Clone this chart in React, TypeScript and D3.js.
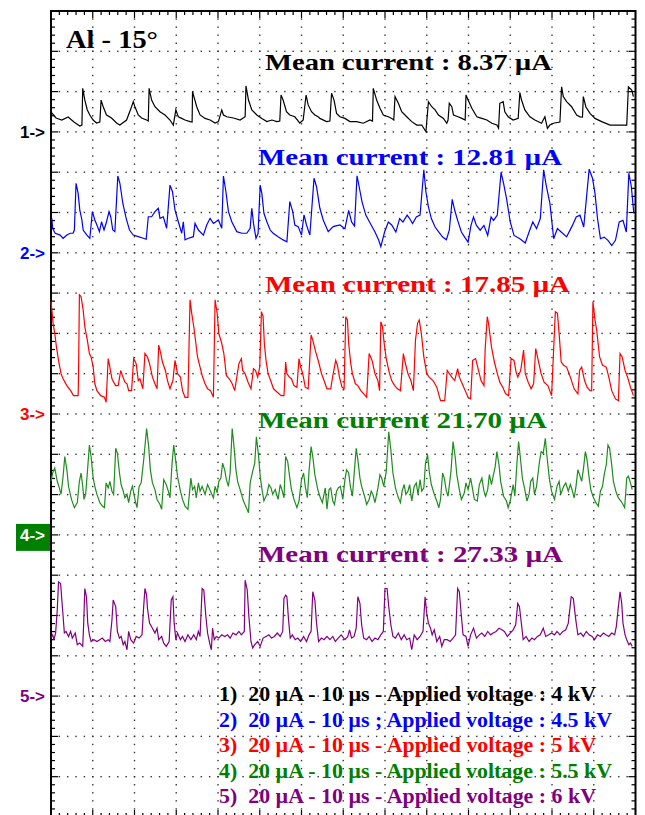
import React from "react";
import * as d3 from "d3";

// ---------- DATA ----------
const channelLabels = ["1->", "2->", "3->", "4->", "5->"];
const channelColors = ["#000000", "#0000ff", "#ff0000", "#1e8c1e", "#800080"];
const textColors = ["#000000", "#0000ff", "#ff0000", "#008000", "#800080"];
const markerDivisions = [3, 6, 10, 13, 17]; // grid line index (from top) of each channel's zero
const meanLabels = [
  "Mean current : 8.37 µA",
  "Mean current : 12.81 µA",
  "Mean current : 17.85 µA",
  "Mean current 21.70 µA",
  "Mean current : 27.33 µA",
];
const legendLabels = [
  "1)  20 µA - 10 µs - Applied voltage : 4 kV",
  "2)  20 µA - 10 µs ; Applied voltage : 4.5 kV",
  "3)  20 µA - 10 µs - Applied voltage : 5 kV",
  "4)  20 µA - 10 µs - Applied voltage : 5.5 kV",
  "5)  20 µA - 10 µs - Applied voltage : 6 kV",
];
const titleText = "Al - 15°";
const timeDivs = 14; // 10 µs / div
const ampDivs = 20; // 20 µA / div
const usPerDiv = 10;
const uaPerDiv = 20;

// time (µs), current (µA) relative to channel marker
const trace1: [number, number][] = [
  [0.2, 9.4], [1.2, 6.9], [2.6, 5.9], [4.1, 7.4], [5.5, 4.9], [6.9, 2.9], [7.4, 3.4], [7.6, 21.6], [8.1, 15.8], [8.7, 10.9],
  [9.3, 8.4], [10.1, 5.9], [10.9, 4.4], [11.7, 4.9], [12.0, 15.8], [12.5, 12.5], [13.3, 8.4], [14.5, 6.9], [15.7, 4.4], [16.5, 3.4],
  [18.1, 5.9], [19.3, 12.5], [19.7, 15.0], [20.1, 12.5], [20.9, 8.4], [21.7, 6.9], [22.9, 5.9], [23.3, 5.4], [23.5, 21.6], [24.1, 15.8],
  [24.9, 12.5], [26.1, 10.0], [27.3, 8.4], [28.5, 5.9], [29.3, 3.4], [29.9, 10.9], [30.5, 7.5], [31.3, 6.7], [32.1, 5.9], [33.3, 5.1],
  [33.8, 4.9], [33.9, 20.0], [34.9, 12.5], [35.7, 8.4], [36.9, 6.7], [38.1, 5.9], [39.3, 4.4], [40.1, 5.1], [40.9, 10.9], [41.3, 8.4],
  [42.1, 7.5], [43.7, 6.9], [45.3, 5.9], [46.5, 7.5], [46.7, 22.8], [47.3, 15.8], [48.1, 10.9], [49.3, 8.4], [50.5, 6.7], [51.7, 5.1],
  [52.9, 5.9], [54.1, 5.1], [54.8, 5.4], [55.1, 18.3], [55.6, 15.8], [56.4, 10.0], [57.2, 8.4], [58.4, 7.5], [59.6, 4.4], [60.4, 5.9],
  [61.1, 18.3], [61.6, 13.4], [62.4, 10.0], [63.2, 8.4], [64.0, 7.5], [64.4, 6.7], [66.0, 5.1], [66.8, 5.4], [67.2, 19.2], [67.8, 15.8],
  [68.4, 9.2], [69.2, 7.5], [70.4, 6.7], [71.6, 5.1], [73.2, 5.1], [74.8, 4.3], [76.4, 5.9], [77.0, 5.4], [77.2, 21.6], [78.0, 15.8],
  [78.8, 11.7], [79.6, 8.4], [80.8, 7.5], [81.6, 6.7], [82.1, 5.9], [82.4, 17.5], [83.2, 14.2], [84.0, 10.0], [85.2, 7.5], [86.4, 5.1],
  [87.6, 3.4], [88.8, 3.4], [89.8, 0.1], [90.4, 15.0], [91.2, 12.5], [92.0, 10.9], [92.8, 8.4], [94.0, 6.7], [94.8, 4.3], [95.1, 5.9],
  [95.4, 14.2], [96.0, 12.5], [96.4, 8.4], [97.5, 7.5], [98.4, 6.7], [99.2, 5.9], [99.4, 18.3], [99.9, 15.8], [100.8, 11.7], [102.0, 7.5],
  [103.2, 6.7], [104.4, 5.9], [105.6, 4.3], [106.8, 3.4], [107.2, 1.8], [107.5, 14.2], [108.3, 15.0], [108.7, 10.0], [109.5, 7.5], [110.7, 5.9],
  [111.9, 6.7], [112.3, 19.5], [112.7, 15.8], [113.5, 10.9], [114.7, 7.5], [115.9, 5.9], [117.5, 4.3], [118.3, 7.5], [118.9, 1.8], [119.5, 3.4],
  [120.3, 4.3], [121.9, 4.9], [122.3, 22.4], [122.7, 17.5], [123.5, 15.0], [124.7, 12.5], [125.9, 8.4], [126.7, 7.5], [127.3, 7.4], [127.5, 17.5],
  [128.1, 12.5], [129.1, 9.2], [130.3, 6.7], [131.9, 5.1], [133.9, 3.4], [135.9, 3.4], [137.9, 3.4], [138.3, 22.4], [139.1, 20.8], [139.5, 17.5],
];

const trace2: [number, number][] = [
  [0.2, 17.1], [0.4, 12.1], [1.0, 9.7], [2.2, 8.8], [2.9, 7.2], [3.8, 8.8], [4.6, 9.7], [5.3, 9.7], [5.6, 11.3], [6.0, 34.5],
  [6.5, 29.5], [6.9, 21.2], [7.4, 16.3], [7.7, 11.3], [8.6, 8.8], [9.3, 7.2], [9.9, 20.4], [10.5, 16.3], [11.0, 13.8], [11.6, 10.5],
  [12.1, 15.4], [12.7, 11.3], [13.3, 15.4], [13.9, 20.4], [14.3, 17.9], [14.8, 11.3], [15.3, 10.5], [16.0, 38.1], [16.5, 34.5], [17.2, 24.6],
  [18.0, 17.1], [18.8, 11.3], [19.7, 8.8], [20.9, 8.0], [22.1, 7.2], [22.8, 6.7], [23.3, 17.9], [24.1, 17.9], [24.9, 20.4], [25.7, 22.1],
  [26.1, 17.1], [26.9, 17.9], [27.7, 12.2], [28.5, 33.6], [29.1, 30.3], [29.7, 21.2], [30.5, 15.4], [31.3, 9.7], [31.7, 15.4], [32.1, 6.4],
  [32.9, 7.2], [34.1, 8.0], [34.5, 14.6], [35.3, 11.3], [36.5, 8.8], [37.3, 13.8], [38.1, 17.1], [38.9, 14.6], [40.1, 16.3], [40.9, 12.2],
  [41.3, 38.1], [41.9, 30.3], [42.5, 20.4], [43.3, 15.4], [44.5, 10.5], [45.7, 9.7], [46.9, 9.7], [47.7, 12.2], [48.1, 22.1], [48.5, 14.6],
  [49.1, 7.2], [49.6, 9.7], [50.1, 33.6], [50.5, 29.5], [51.0, 19.6], [51.7, 15.4], [52.5, 11.3], [53.2, 9.7], [54.4, 8.0], [55.6, 6.4],
  [56.5, 5.5], [57.2, 25.4], [57.9, 20.4], [58.4, 13.8], [59.2, 13.0], [60.0, 8.8], [60.6, 18.8], [61.2, 13.8], [62.0, 8.8], [63.0, 37.0],
  [63.6, 32.8], [64.4, 22.1], [65.2, 16.3], [66.4, 10.5], [67.6, 13.0], [69.2, 13.8], [70.4, 12.0], [71.3, 21.1], [72.0, 15.3], [72.7, 13.3],
  [73.3, 38.2], [73.8, 32.9], [74.5, 25.3], [75.4, 18.7], [76.3, 15.3], [77.6, 10.3], [78.5, 6.2], [79.0, 3.1], [79.9, 10.3], [80.8, 15.3],
  [81.6, 13.8], [82.6, 10.3], [83.5, 17.0], [84.3, 15.3], [85.3, 18.7], [85.9, 17.0], [86.6, 14.5], [87.5, 17.8], [88.4, 18.7], [89.3, 41.2],
  [89.8, 30.3], [90.4, 22.8], [91.1, 17.0], [92.0, 12.8], [92.9, 10.3], [93.8, 7.8], [94.7, 6.5], [95.4, 11.2], [96.1, 26.5], [96.7, 21.1],
  [97.4, 16.1], [98.3, 10.3], [99.2, 7.4], [99.9, 5.3], [100.6, 13.6], [101.2, 17.8], [101.9, 13.6], [102.8, 11.2], [103.7, 13.6], [104.6, 8.6],
  [105.4, 17.8], [106.0, 16.1], [106.9, 18.7], [107.8, 39.9], [108.4, 34.5], [109.1, 27.0], [110.0, 15.3], [110.9, 8.6], [112.3, 7.0], [113.6, 4.9],
  [114.5, 10.3], [115.4, 15.3], [116.3, 12.0], [117.2, 17.0], [118.0, 41.2], [118.6, 33.6], [119.5, 24.5], [120.4, 7.0], [121.3, 12.0], [122.2, 10.3],
  [123.5, 7.9], [124.9, 13.6], [125.8, 17.8], [126.7, 18.7], [127.6, 12.8], [128.9, 41.5], [129.7, 37.0], [130.3, 29.5], [130.9, 17.0], [131.6, 7.0],
  [132.5, 7.8], [133.4, 6.2], [134.3, 3.6], [135.2, 6.2], [136.1, 15.3], [137.0, 16.1], [137.8, 10.3], [138.4, 39.5], [139.0, 32.9], [139.6, 19.5],
];

const trace3: [number, number][] = [
  [0.0, 55.8], [0.2, 51.7], [0.5, 45.0], [0.9, 40.0], [1.3, 33.3], [1.8, 26.6], [2.4, 20.0], [2.9, 17.5], [3.8, 14.1], [4.7, 11.6],
  [5.4, 9.1], [6.5, 9.1], [6.6, 20.0], [6.8, 59.2], [7.2, 58.3], [7.7, 51.7], [8.1, 43.3], [8.7, 36.7], [9.2, 30.0], [9.6, 28.3],
  [10.1, 23.3], [10.5, 15.0], [11.0, 11.6], [11.9, 9.1], [12.8, 8.3], [13.2, 5.8], [13.7, 27.5], [14.1, 23.3], [14.6, 17.5], [15.0, 15.8],
  [15.5, 14.1], [16.1, 14.1], [16.7, 21.6], [17.1, 19.1], [17.7, 15.8], [18.2, 15.0], [18.6, 11.6], [19.3, 11.6], [19.8, 27.5], [20.4, 25.0],
  [20.9, 16.6], [21.3, 17.5], [22.0, 12.5], [22.5, 30.0], [23.1, 28.3], [23.6, 25.0], [24.3, 18.3], [24.9, 15.0], [25.4, 12.5], [25.8, 34.2],
  [26.3, 30.0], [26.7, 25.8], [27.4, 21.6], [27.9, 16.6], [28.5, 12.5], [29.2, 16.6], [29.7, 26.6], [30.3, 20.0], [31.0, 18.3], [31.5, 11.6],
  [32.1, 8.3], [32.8, 8.3], [33.3, 56.7], [33.7, 50.0], [34.2, 43.3], [34.6, 36.7], [35.1, 28.3], [35.7, 23.3], [36.2, 19.1], [36.9, 15.0],
  [37.5, 12.5], [38.2, 11.6], [38.9, 8.3], [39.3, 56.7], [39.8, 50.0], [40.2, 40.0], [40.9, 35.0], [41.4, 30.0], [42.0, 19.1], [42.7, 17.5],
  [43.4, 15.0], [44.0, 11.6], [45.0, 25.0], [45.6, 27.5], [45.9, 21.6], [46.5, 20.0], [47.2, 15.8], [47.9, 12.5], [48.5, 22.5], [49.0, 21.6],
  [49.5, 18.3], [50.0, 23.3], [50.4, 50.8], [50.8, 48.3], [51.1, 35.0], [51.5, 26.6], [52.0, 20.0], [52.6, 16.6], [53.3, 12.5], [54.2, 10.8],
  [55.1, 9.1], [55.8, 9.1], [56.2, 25.8], [56.5, 20.0], [57.1, 18.3], [57.6, 17.5], [58.2, 14.1], [58.9, 13.3], [59.4, 27.5], [59.8, 23.3],
  [60.3, 20.0], [60.9, 13.3], [61.6, 12.5], [62.3, 39.2], [62.7, 36.7], [63.4, 30.8], [64.1, 25.8], [64.8, 20.0], [65.4, 16.6], [66.1, 12.5],
  [67.0, 12.5], [67.5, 19.1], [68.2, 26.6], [68.6, 24.2], [69.1, 18.3], [69.7, 13.3], [70.2, 12.5], [70.6, 48.3], [71.0, 46.7], [71.3, 35.0],
  [71.8, 25.0], [72.2, 20.0], [72.9, 15.0], [73.5, 14.1], [74.2, 11.6], [74.9, 10.0], [75.6, 8.3], [76.2, 30.0], [76.9, 26.6], [77.6, 20.0],
  [78.3, 16.6], [78.7, 11.6], [79.0, 45.8], [79.4, 43.3], [79.8, 35.0], [80.3, 27.5], [81.0, 20.8], [81.6, 16.6], [82.3, 14.1], [83.0, 12.5],
  [83.7, 11.6], [84.4, 30.0], [84.8, 25.8], [85.5, 20.0], [86.2, 16.6], [86.8, 11.6], [87.3, 36.7], [87.8, 45.0], [88.2, 46.7], [88.7, 40.0],
  [89.3, 28.3], [90.0, 20.0], [90.6, 18.3], [91.5, 16.6], [92.4, 13.3], [93.3, 6.6], [94.3, 6.6], [94.9, 21.6], [95.4, 20.0], [96.0, 18.3],
  [96.7, 16.6], [97.4, 22.5], [97.8, 18.3], [98.5, 15.0], [99.2, 11.6], [99.9, 8.3], [100.5, 7.5], [101.0, 26.6], [101.7, 27.5], [102.4, 21.6],
  [103.0, 16.6], [103.7, 14.1], [104.0, 32.5], [104.5, 48.3], [104.8, 45.0], [105.5, 33.3], [106.2, 25.8], [106.9, 20.0], [107.5, 15.8], [108.2, 13.3],
  [108.9, 10.0], [109.6, 9.1], [110.2, 27.5], [110.9, 26.6], [111.4, 20.8], [111.8, 18.3], [112.5, 21.6], [113.2, 31.7], [113.6, 20.0], [114.3, 15.8],
  [115.0, 12.5], [115.6, 15.0], [116.1, 32.5], [116.7, 26.6], [117.4, 20.0], [118.1, 15.8], [119.0, 14.1], [119.9, 9.1], [120.8, 50.8], [121.3, 50.0],
  [121.7, 40.0], [122.2, 25.8], [122.8, 24.2], [123.5, 23.3], [124.4, 18.3], [125.3, 12.5], [126.2, 10.0], [126.6, 21.6], [127.1, 23.3], [127.8, 16.6],
  [128.4, 13.3], [129.1, 11.6], [129.5, 11.6], [129.8, 55.8], [130.3, 46.7], [130.7, 41.7], [131.4, 28.3], [132.1, 24.2], [133.0, 23.3], [133.6, 18.3],
  [134.3, 11.6], [135.2, 7.5], [135.9, 6.6], [136.3, 30.0], [136.8, 28.3], [137.5, 21.6], [138.1, 18.3], [138.8, 13.3], [139.5, 9.1],
];

const trace4: [number, number][] = [
  [0.0, 26.6], [0.4, 30.7], [0.9, 33.2], [1.5, 26.6], [2.0, 23.3], [2.4, 20.1], [2.9, 29.1], [3.3, 38.9], [3.8, 32.3], [4.2, 24.1],
  [4.9, 17.6], [5.6, 13.5], [6.3, 16.0], [6.8, 26.6], [7.2, 30.7], [7.6, 24.1], [7.9, 17.6], [8.3, 20.1], [8.7, 30.7], [9.2, 44.6],
  [9.6, 38.9], [10.1, 28.2], [10.5, 24.1], [11.0, 20.1], [11.7, 16.0], [12.3, 14.3], [12.8, 13.5], [13.2, 25.8], [13.7, 23.3], [14.1, 26.6],
  [14.6, 21.7], [15.0, 20.1], [15.5, 43.0], [15.9, 40.5], [16.4, 30.7], [16.8, 25.0], [17.3, 21.7], [17.7, 18.4], [18.2, 20.1], [18.6, 16.0],
  [19.1, 21.7], [19.5, 24.1], [20.2, 16.8], [20.6, 13.5], [21.1, 24.1], [21.6, 25.8], [22.2, 37.2], [22.9, 52.8], [23.4, 43.8], [23.8, 32.3],
  [24.3, 25.8], [24.9, 22.5], [25.4, 17.6], [26.1, 15.1], [26.5, 12.7], [27.0, 27.4], [27.6, 25.0], [28.1, 21.7], [28.5, 18.4], [29.0, 35.6],
  [29.4, 44.6], [29.9, 36.4], [30.3, 29.1], [31.0, 21.7], [31.5, 17.6], [32.1, 14.3], [32.8, 12.7], [33.5, 28.2], [33.9, 22.5], [34.4, 24.1],
  [34.8, 18.4], [35.3, 25.8], [35.7, 21.7], [36.2, 24.1], [36.9, 20.1], [37.5, 25.0], [38.2, 21.7], [38.9, 18.4], [39.3, 24.1], [39.8, 20.9],
  [40.2, 26.6], [40.7, 28.2], [41.1, 35.6], [41.6, 32.3], [42.0, 27.4], [42.5, 24.1], [42.9, 30.7], [43.4, 52.8], [43.8, 44.6], [44.3, 32.3],
  [44.7, 26.6], [45.4, 21.7], [46.1, 16.8], [46.8, 13.5], [47.3, 11.0], [47.7, 25.8], [48.3, 31.5], [48.8, 35.6], [49.2, 48.7], [49.7, 39.7],
  [50.1, 29.1], [50.6, 21.7], [51.0, 16.8], [51.7, 20.1], [52.2, 25.0], [52.7, 23.3], [53.1, 20.1], [53.7, 22.5], [54.4, 17.6], [54.9, 25.0],
  [55.4, 21.7], [55.8, 18.4], [56.2, 38.9], [56.7, 36.4], [57.2, 28.2], [57.6, 22.5], [58.2, 17.6], [58.9, 13.5], [59.4, 16.8], [60.0, 27.4],
  [60.5, 30.7], [60.9, 24.1], [61.4, 18.4], [61.8, 31.5], [62.3, 43.8], [62.7, 38.9], [63.2, 29.9], [63.9, 22.5], [64.5, 18.4], [65.0, 16.0],
  [65.7, 23.3], [66.1, 12.7], [66.6, 22.5], [67.0, 23.3], [67.5, 16.8], [67.9, 15.1], [68.4, 21.7], [68.8, 23.3], [69.3, 24.1], [69.9, 17.6],
  [70.4, 27.4], [70.8, 32.3], [71.3, 30.7], [71.7, 24.1], [72.2, 19.2], [72.6, 29.9], [73.1, 43.0], [73.5, 37.2], [74.0, 28.2], [74.4, 24.1],
  [75.1, 19.2], [75.6, 15.1], [76.2, 17.6], [76.7, 21.7], [77.1, 20.1], [77.6, 16.0], [78.3, 23.3], [78.8, 29.9], [79.2, 28.2], [79.7, 24.1],
  [80.3, 31.5], [80.9, 51.2], [81.4, 42.2], [81.9, 30.7], [82.5, 23.3], [83.2, 18.4], [83.7, 16.0], [84.1, 21.7], [84.6, 25.0], [85.0, 20.1],
  [85.5, 21.7], [85.9, 25.0], [86.4, 16.8], [87.0, 24.1], [87.5, 25.8], [87.9, 20.1], [88.4, 27.4], [88.8, 21.7], [89.3, 23.3], [89.7, 35.6],
  [90.2, 39.7], [90.6, 31.5], [91.1, 25.0], [91.8, 20.1], [92.4, 16.8], [92.9, 13.5], [93.3, 17.6], [93.8, 30.7], [94.2, 28.2], [94.7, 21.7],
  [95.1, 19.2], [95.8, 31.5], [96.3, 46.3], [96.8, 38.9], [97.2, 29.9], [97.8, 22.5], [98.3, 17.6], [99.0, 20.9], [99.4, 25.8], [99.9, 22.5],
  [100.5, 28.2], [101.0, 22.5], [101.4, 17.6], [102.1, 16.8], [102.6, 25.0], [103.2, 28.2], [103.7, 21.7], [104.1, 19.2], [104.6, 22.5], [105.0, 29.9],
  [105.5, 25.0], [105.9, 29.1], [106.4, 34.0], [106.8, 41.3], [107.3, 34.8], [107.7, 26.6], [108.4, 19.2], [109.1, 16.8], [109.5, 13.5], [110.0, 16.8],
  [110.7, 25.0], [111.1, 19.2], [111.6, 35.6], [112.0, 46.3], [112.4, 38.9], [112.9, 28.2], [113.4, 23.3], [114.0, 16.8], [114.5, 20.1], [114.9, 26.6],
  [115.4, 28.2], [115.8, 20.1], [116.3, 24.1], [117.0, 36.4], [117.4, 41.3], [117.9, 40.5], [118.4, 47.9], [118.8, 38.9], [119.4, 27.4], [119.9, 21.7],
  [120.6, 17.6], [121.2, 24.1], [121.7, 26.6], [122.1, 20.1], [122.8, 24.1], [123.3, 25.8], [123.9, 21.7], [124.4, 25.0], [124.8, 22.5], [125.3, 18.4],
  [125.7, 23.3], [126.2, 32.3], [126.6, 29.9], [127.1, 26.6], [127.5, 32.3], [128.0, 41.3], [128.4, 37.2], [128.9, 28.2], [129.3, 22.5], [129.8, 19.2],
  [130.5, 16.0], [131.1, 14.3], [131.6, 21.7], [132.1, 24.1], [132.5, 29.9], [133.0, 34.8], [133.4, 44.6], [133.8, 43.0], [134.3, 34.8], [134.7, 26.6],
  [135.4, 20.9], [135.9, 18.4], [136.5, 16.8], [137.0, 15.1], [137.4, 13.5], [137.9, 28.2], [138.3, 29.1], [138.8, 25.8], [139.2, 22.5],
];

const trace5: [number, number][] = [
  [0.0, 28.8], [0.4, 30.4], [0.7, 28.0], [1.1, 31.3], [1.5, 42.7], [1.8, 56.7], [2.3, 55.9], [2.6, 47.7], [2.9, 39.5], [3.2, 31.3],
  [3.6, 32.1], [4.2, 29.6], [4.7, 32.1], [5.1, 28.8], [5.8, 31.3], [6.3, 25.5], [6.9, 26.3], [7.6, 24.7], [7.8, 34.5], [8.1, 53.4],
  [8.5, 49.3], [8.8, 36.2], [9.2, 30.4], [9.6, 27.1], [10.3, 28.0], [11.0, 27.1], [11.7, 28.0], [12.3, 28.8], [13.0, 27.1], [13.7, 28.0],
  [14.1, 27.1], [14.6, 37.8], [14.9, 47.7], [15.2, 46.0], [15.5, 44.4], [15.9, 32.1], [16.4, 28.8], [16.8, 29.6], [17.3, 25.5], [17.7, 27.1],
  [18.2, 23.0], [18.6, 32.1], [19.1, 28.0], [19.8, 26.3], [20.4, 29.6], [21.1, 28.8], [21.8, 30.4], [22.2, 44.4], [22.5, 53.4], [22.9, 50.1],
  [23.1, 43.6], [23.6, 36.2], [24.3, 33.7], [24.9, 31.3], [25.4, 33.7], [25.8, 28.0], [26.5, 29.6], [27.0, 26.3], [27.6, 24.7], [28.3, 27.1],
  [28.8, 47.7], [29.2, 49.3], [29.5, 36.2], [29.9, 28.0], [30.3, 31.3], [31.0, 28.0], [31.5, 29.6], [32.1, 27.1], [32.8, 30.4], [33.5, 28.0],
  [34.2, 30.4], [34.8, 28.0], [35.3, 32.1], [35.7, 29.6], [36.2, 53.4], [36.6, 52.6], [37.1, 39.5], [37.5, 31.3], [38.0, 26.3], [38.4, 23.0],
  [38.7, 33.7], [39.1, 28.0], [39.6, 29.6], [40.2, 28.8], [40.9, 30.4], [41.6, 29.6], [42.3, 30.4], [42.9, 28.8], [43.6, 31.3], [44.3, 30.4],
  [45.0, 32.1], [45.6, 30.4], [46.3, 32.1], [46.5, 57.5], [47.0, 52.6], [47.4, 39.5], [47.9, 27.1], [48.3, 23.9], [48.8, 25.5], [49.5, 27.1],
  [50.1, 24.7], [50.8, 28.8], [51.5, 29.6], [52.2, 30.4], [52.8, 28.8], [53.5, 29.6], [54.2, 31.3], [54.9, 29.6], [55.5, 32.1], [55.8, 48.5],
  [56.2, 50.1], [56.5, 49.3], [56.9, 37.8], [57.3, 28.8], [57.8, 30.4], [58.5, 28.0], [59.1, 28.8], [59.8, 27.1], [60.5, 29.6], [61.2, 27.1],
  [61.8, 30.4], [62.3, 32.1], [62.7, 51.8], [63.2, 47.7], [63.6, 36.2], [64.1, 27.1], [64.8, 28.8], [65.4, 28.0], [66.1, 29.6], [66.8, 28.0],
  [67.5, 29.6], [68.1, 27.1], [68.8, 28.8], [69.5, 30.4], [70.4, 28.0], [71.1, 29.6], [71.5, 32.9], [72.0, 28.8], [72.6, 29.6], [73.1, 33.7],
  [73.5, 49.3], [74.0, 46.0], [74.4, 35.4], [74.9, 28.8], [75.6, 28.0], [76.2, 29.6], [76.9, 27.1], [77.6, 28.8], [78.3, 28.0], [79.0, 30.4],
  [79.6, 32.1], [80.0, 53.4], [80.5, 53.4], [80.9, 44.4], [81.4, 35.4], [81.9, 29.6], [82.5, 28.8], [83.2, 31.3], [83.9, 28.0], [84.6, 30.4],
  [85.2, 28.0], [85.9, 28.8], [86.4, 23.0], [87.0, 30.4], [87.7, 28.0], [88.4, 29.6], [89.1, 32.1], [89.6, 49.3], [90.0, 41.1], [90.4, 36.2],
  [90.9, 33.7], [91.3, 30.4], [91.8, 32.9], [92.4, 27.1], [93.1, 29.6], [93.6, 24.7], [94.2, 28.0], [94.9, 28.0], [95.6, 27.1], [96.3, 28.8],
  [96.9, 30.4], [97.4, 53.4], [97.8, 51.8], [98.3, 39.5], [98.7, 30.4], [99.4, 29.6], [99.9, 24.7], [100.5, 30.4], [101.2, 33.7], [101.9, 28.8],
  [102.6, 30.4], [103.2, 31.3], [103.9, 29.6], [104.6, 32.1], [105.3, 30.4], [105.9, 31.3], [106.6, 32.1], [107.3, 33.7], [108.0, 32.9], [108.6, 32.1],
  [109.3, 29.6], [110.0, 31.3], [110.7, 32.9], [111.3, 35.4], [111.8, 46.0], [112.2, 44.4], [112.7, 35.4], [113.1, 28.0], [113.8, 29.6], [114.5, 27.1],
  [115.2, 28.8], [115.8, 28.0], [116.5, 29.6], [117.2, 30.4], [117.9, 33.7], [118.5, 29.6], [119.2, 30.4], [119.9, 31.3], [120.6, 30.4], [121.2, 32.1],
  [121.9, 30.4], [122.6, 32.1], [123.3, 32.9], [123.9, 36.2], [124.6, 49.3], [125.1, 48.5], [125.7, 37.8], [126.2, 30.4], [126.9, 31.3], [127.5, 29.6],
  [128.2, 32.1], [128.9, 30.4], [129.6, 29.6], [130.2, 28.0], [130.9, 30.4], [131.6, 29.6], [132.3, 31.3], [132.9, 30.4], [133.6, 29.6], [134.3, 31.3],
  [135.0, 30.4], [135.4, 34.5], [135.9, 44.4], [136.3, 51.8], [136.7, 46.0], [137.0, 36.2], [137.5, 30.4], [137.9, 28.0], [138.4, 25.5], [138.8, 26.3],
  [139.2, 24.7],
];

const traces = [trace1, trace2, trace3, trace4, trace5];

// ---------- LAYOUT ----------
const W = 645;
const H = 815;
const left = 51;
const right = 635.5;
const top = 11;
const divH = 40.3;
const bottom = top + ampDivs * divH;

const x = d3.scaleLinear().domain([0, timeDivs * usPerDiv]).range([left, right]);
const yDiv = d3.scaleLinear().domain([0, ampDivs]).range([top, bottom]);

const meanPos = [
  { x: 265, y: 70, w: 287 },
  { x: 258, y: 165, w: 304 },
  { x: 265, y: 292, w: 305 },
  { x: 258, y: 428, w: 289 },
  { x: 258, y: 562, w: 305 },
];
const legendWidths = [377, 393, 377, 393, 377];

export default function App() {
  const minorX = d3.range(0, timeDivs * 5 + 1).map((i) => x((i * usPerDiv) / 5));
  const minorY = d3.range(0, ampDivs * 5 + 1).map((i) => yDiv(i / 5));
  const majorXs = d3.range(1, timeDivs).map((i) => x(i * usPerDiv));
  const majorYs = d3.range(1, ampDivs).map((i) => yDiv(i));

  const lines = traces.map((tr, i) => {
    const zero = yDiv(markerDivisions[i]);
    const y = d3
      .scaleLinear()
      .domain([0, uaPerDiv])
      .range([zero, zero - divH]);
    const gen = d3
      .line<[number, number]>()
      .x((d) => x(d[0]))
      .y((d) => y(d[1]));
    return gen(tr) || "";
  });

  const serif = "'Liberation Serif', 'Times New Roman', serif";
  const sans = "'Liberation Sans', Arial, sans-serif";

  return (
    <svg
      width={W}
      height={H}
      style={{ position: "fixed", left: 0, top: 0, display: "block", background: "#fff" }}
    >
      <rect x={0} y={0} width={W} height={H} fill="#fff" />
      {/* dotted grid */}
      <g fill="#333">
        {majorXs.map((gx, i) =>
          minorY.map((py, j) => (
            <rect key={`v${i}-${j}`} x={gx - 0.7} y={py - 0.7} width={1.4} height={1.4} />
          ))
        )}
        {majorYs.map((gy, i) =>
          minorX.map((px, j) => (
            <rect key={`h${i}-${j}`} x={px - 0.7} y={gy - 0.7} width={1.4} height={1.4} />
          ))
        )}
      </g>
      {/* frame ticks */}
      <g stroke="#000" strokeWidth={1.2}>
        {minorX.map((px, i) => {
          const len = i % 5 === 0 ? 7 : 4;
          return (
            <g key={`tx${i}`}>
              <line x1={px} x2={px} y1={top} y2={top + len} />
              <line x1={px} x2={px} y1={bottom} y2={bottom - len} />
            </g>
          );
        })}
        {minorY.map((py, i) => {
          const len = i % 5 === 0 ? 7 : 4;
          return (
            <g key={`ty${i}`}>
              <line x1={left} x2={left + len} y1={py} y2={py} />
              <line x1={right} x2={right - len} y1={py} y2={py} />
            </g>
          );
        })}
      </g>
      <rect x={left} y={top} width={right - left} height={bottom - top} fill="none" stroke="#000" strokeWidth={2} />

      {/* traces */}
      {lines.map((d, i) => (
        <path key={`tr${i}`} d={d} fill="none" stroke={channelColors[i]} strokeWidth={1.2} strokeLinejoin="miter" />
      ))}

      {/* channel markers */}
      {channelLabels.map((lab, i) => {
        const yy = yDiv(markerDivisions[i]);
        if (i === 3) {
          return (
            <g key={`m${i}`}>
              <rect x={16} y={yy - 11} width={34} height={27} fill="#008000" />
              <text x={20} y={yy + 6} fill="#fff" fontFamily={sans} fontWeight="bold" fontSize={16} textLength={25} lengthAdjust="spacingAndGlyphs">
                {lab}
              </text>
            </g>
          );
        }
        return (
          <text key={`m${i}`} x={20} y={yy + 6} fill={textColors[i]} fontFamily={sans} fontWeight="bold" fontSize={16} textLength={25} lengthAdjust="spacingAndGlyphs">
            {lab}
          </text>
        );
      })}

      {/* title */}
      <text x={66} y={48} fontFamily={serif} fontWeight="bold" fontSize={26} fill="#000" textLength={92} lengthAdjust="spacingAndGlyphs">
        {titleText}
      </text>

      {/* mean current labels */}
      {meanLabels.map((lab, i) => (
        <text
          key={`mean${i}`}
          x={meanPos[i].x}
          y={meanPos[i].y}
          fontFamily={serif}
          fontWeight="bold"
          fontSize={24}
          fill={textColors[i]}
          textLength={meanPos[i].w}
          lengthAdjust="spacingAndGlyphs"
        >
          {lab}
        </text>
      ))}

      {/* legend */}
      {legendLabels.map((lab, i) => (
        <text
          key={`leg${i}`}
          x={219}
          y={701 + i * 25.5}
          fontFamily={serif}
          fontWeight="bold"
          fontSize={20}
          fill={textColors[i]}
          textLength={legendWidths[i]}
          lengthAdjust="spacingAndGlyphs"
          style={{ whiteSpace: "pre" }}
        >
          {lab}
        </text>
      ))}
    </svg>
  );
}
